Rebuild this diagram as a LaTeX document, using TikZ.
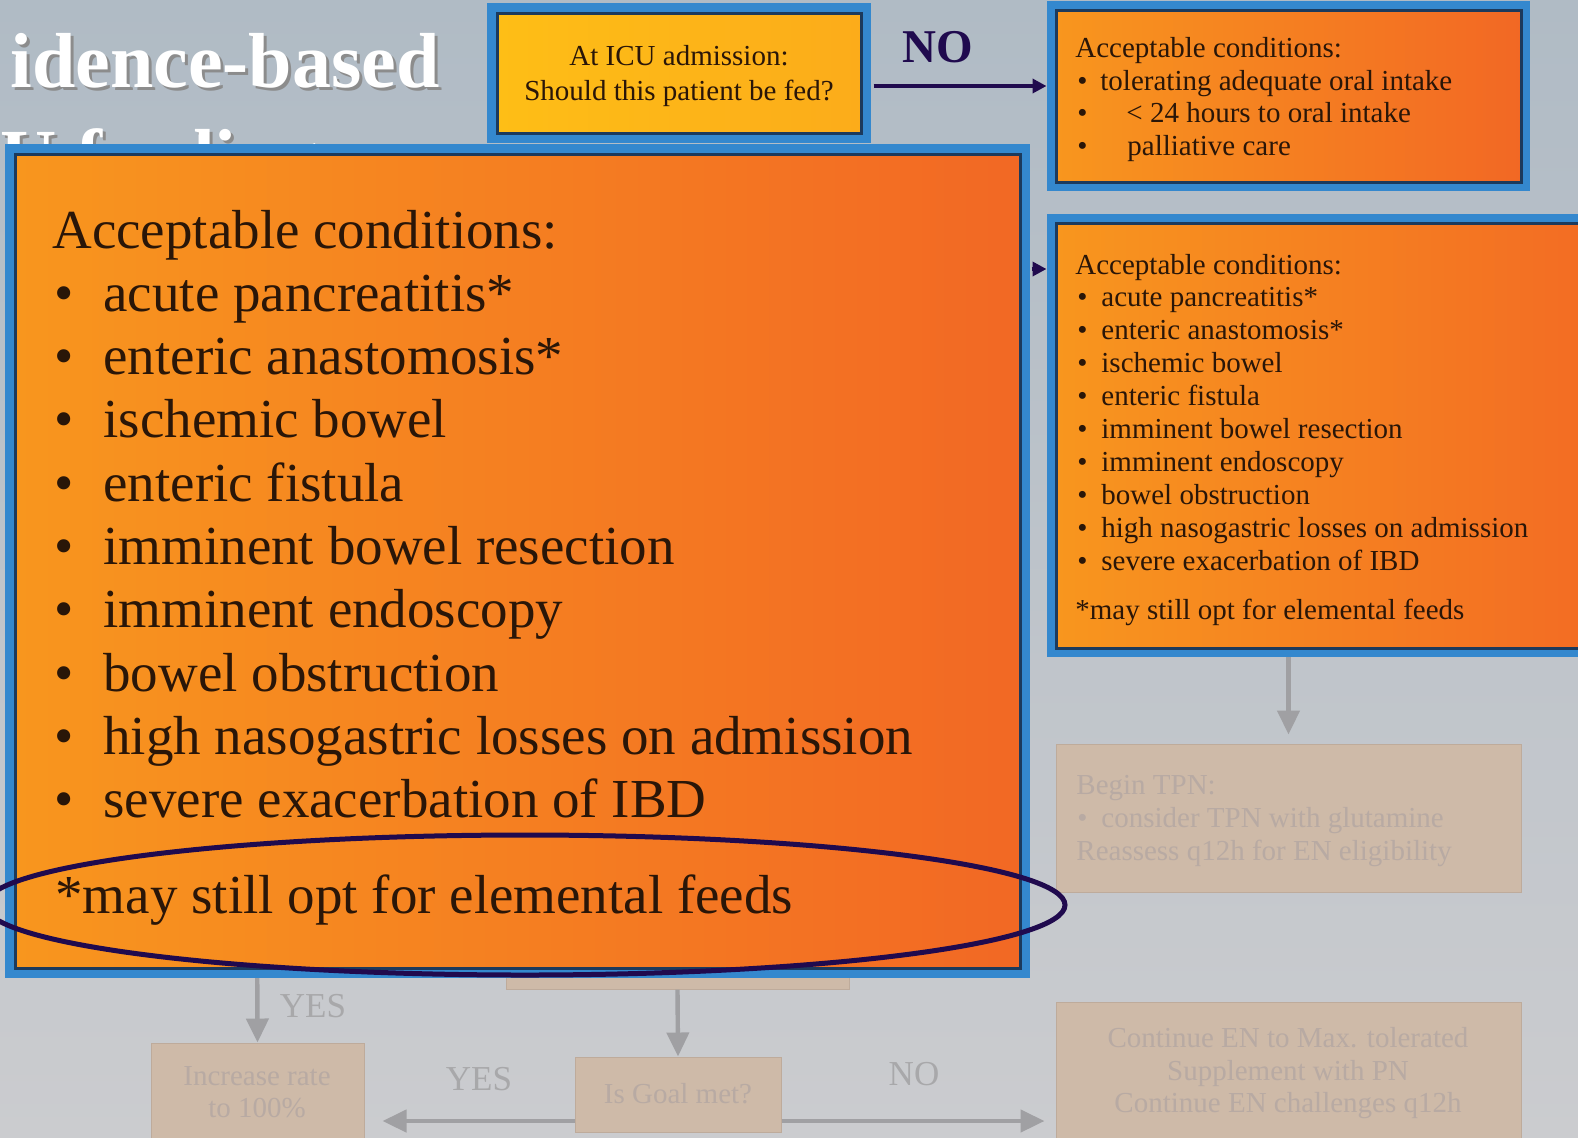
\documentclass[tikz,border=0pt]{standalone}
\usepackage{fontspec}
\setmainfont{Liberation Serif}
\usetikzlibrary{fit,arrows.meta,shapes.geometric}
\definecolor{slidetop}{RGB}{176,187,197}
\definecolor{slidebot}{RGB}{203,204,207}
\definecolor{frameblue}{RGB}{52,136,206}
\definecolor{framedark}{RGB}{28,58,92}
\definecolor{orangeL}{RGB}{248,150,30}
\definecolor{orangeR}{RGB}{242,104,36}
\definecolor{yellowL}{RGB}{254,190,22}
\definecolor{yellowR}{RGB}{252,172,26}
\definecolor{ink}{RGB}{42,22,8}
\definecolor{navy}{RGB}{32,10,78}
\definecolor{ghostbox}{RGB}{206,186,168}
\definecolor{ghostink}{RGB}{184,170,163}
\definecolor{ghostline}{RGB}{160,160,163}
\definecolor{ghostlabel}{RGB}{168,168,170}
\tikzstyle{panel} = [inner sep=0pt, draw=framedark, line width=1.5pt, left color=orangeL, right color=orangeR, preaction={draw=frameblue, line width=9pt}]
\tikzstyle{ghost} = [inner sep=0pt, fill=ghostbox, draw=ghostbox!92!black, line width=0.5pt]
\tikzstyle{ghostarrow} = [draw=ghostline, line width=2.2pt, -{Triangle[length=12pt,width=11pt]}]
\tikzstyle{navyarrow} = [draw=navy, line width=2pt, -{Triangle[length=7pt,width=7pt]}]
\tikzstyle{bigtxt} = [anchor=base west, inner sep=0pt, text=ink, font=\fontsize{27.5}{30}\selectfont]
\tikzstyle{smalltxt} = [anchor=base west, inner sep=0pt, text=ink, font=\fontsize{14.5}{16}\selectfont]
\tikzstyle{ghosttxt} = [smalltxt, text=ghostink]
\tikzstyle{ghostlabeltxt} = [anchor=base, inner sep=0pt, text=ghostlabel, font=\fontsize{17.5}{19}\selectfont]
\tikzstyle{titletxt} = [inner sep=0pt, font=\fontsize{39}{42}\bfseries\selectfont]

\begin{document}
\begin{tikzpicture}[x=0.5pt, y=-0.5pt]
        \useasboundingbox (0,0) rectangle (1578,1137);
        \clip (0,0) rectangle (1578,1137);
        \shade[top color=slidetop, bottom color=slidebot] (0,0) rectangle (1578,1137);
        % title, mostly hidden
        \node[titletxt, anchor=base east, text=black!45](titleshadow) at (443,90){idence-based};
        \node[titletxt, anchor=base east, text=white](title) at (440,87){idence-based};
        \node[titletxt, anchor=base west, text=black!45](title2shadow) at (3,186){U feeding};
        \node[titletxt, anchor=base west, text=white](title2) at (0,183){U feeding};
        % faded flowchart behind the zoom
        \node[ghost, fit={(506,900)(849,989)}](ghostmid){};
        \node[ghost, fit={(575,1057)(781,1132)}](goal){};
        \node[ghost, fit={(151,1043)(364,1170)}](increase){};
        \node[ghost, fit={(1056,744)(1521,892)}](tpn){};
        \node[ghost, fit={(1056,1002)(1521,1170)}](continue){};
        \node[ghosttxt, anchor=base](goaltxt) at (678,1103){Is Goal met?};
        \node[ghosttxt, anchor=base](increase1) at (257,1085){Increase rate};
        \node[ghosttxt, anchor=base](increase2) at (257,1117){to 100\%};
        \node[ghosttxt](tpn1) at (1076,794){Begin TPN:};
        \node[ghosttxt](tpnbullet) at (1077,827){\textbullet};
        \node[ghosttxt](tpn2) at (1101,827){consider TPN with glutamine};
        \node[ghosttxt](tpn3) at (1076,860){Reassess q12h for EN eligibility};
        \node[ghosttxt, anchor=base](cont1) at (1288,1047){Continue EN to Max. tolerated};
        \node[ghosttxt, anchor=base](cont2) at (1288,1080){Supplement with PN};
        \node[ghosttxt, anchor=base](cont3) at (1288,1112){Continue EN challenges q12h};
        \node[ghostlabeltxt](yes1) at (313,1017){YES};
        \node[ghostlabeltxt](yes2) at (479,1090){YES};
        \node[ghostlabeltxt](no2) at (914,1085){NO};
        \draw[ghostarrow](257,900)--(increase.north);
        \draw[ghostarrow](ghostmid.south)--(goal.north);
        \draw[ghostarrow, shorten >=9pt](goal.west |- 0,1121)--(increase.east |- 0,1121);
        \draw[ghostarrow, shorten >=5.5pt](goal.east |- 0,1121)--(continue.west |- 0,1121);
        \draw[ghostarrow, shorten >=4.5pt](1288.5,650)--(tpn.north);
        % first question
        \node[panel, left color=yellowL, right color=yellowR, preaction={draw=frameblue, line width=10pt}, fit={(497,13)(861,133)}](ask){};
        \node[smalltxt, anchor=base](ask1) at (679,65){At ICU admission:};
        \node[smalltxt, anchor=base](ask2) at (679,100){Should this patient be fed?};
        \node[anchor=base west, inner sep=0pt, text=navy, font=\fontsize{23.5}{25}\bfseries\selectfont](nolabel) at (902,62){NO};
        % no feeding
        \node[panel, fit={(1056,10)(1521,182)}](oral){};
        \node[smalltxt](oral0) at (1075,57){Acceptable conditions:};
        \node[smalltxt](oralb1) at (1077,90){\textbullet};
        \node[smalltxt](oralb2) at (1077,122){\textbullet};
        \node[smalltxt](oralb3) at (1077,155){\textbullet};
        \node[smalltxt](oral1) at (1100,90){tolerating adequate oral intake};
        \node[smalltxt](oral2) at (1126,122){< 24 hours to oral intake};
        \node[smalltxt](oral3) at (1127,155){palliative care};
        \draw[navyarrow, shorten <=5.5pt, shorten >=4pt](ask.east |- 0,86)--(oral.west |- 0,86);
        % conditions against enteral feeding
        \node[panel, fit={(1056,223)(1640,648)}](mid){};
        \node[smalltxt](mid0) at (1075,274){Acceptable conditions:};
        \foreach \t [count=\i] in {acute pancreatitis*, enteric anastomosis*, ischemic bowel, enteric fistula, imminent bowel resection, imminent endoscopy, bowel obstruction, high nasogastric losses on admission, severe exacerbation of IBD}{
          \node[smalltxt](midb\i) at (1077,274+32.9*\i){\textbullet};
          \node[smalltxt](mid\i) at (1101,274+32.9*\i){\t};
        }
        \node[smalltxt](midnote) at (1075,619){*may still opt for elemental feeds};
        % zoomed copy
        \node[panel, preaction={draw=frameblue, line width=10pt}, fit={(15,154)(1020,968)}](big){};
        \node[bigtxt](big0) at (52,248){Acceptable conditions:};
        \foreach \t [count=\i] in {acute pancreatitis*, enteric anastomosis*, ischemic bowel, enteric fistula, imminent bowel resection, imminent endoscopy, bowel obstruction, high nasogastric losses on admission, severe exacerbation of IBD}{
          \node[bigtxt](bigb\i) at (54,248+63.3*\i){\textbullet};
          \node[bigtxt](big\i) at (103,248+63.3*\i){\t};
        }
        \node[bigtxt](bignote) at (55,913){*may still opt for elemental feeds};
        \draw[navyarrow, shorten <=5pt, shorten >=4pt](big.east |- 0,269)--(mid.west |- 0,269);
        \node[draw=navy, line width=2.5pt, ellipse, inner sep=0pt, minimum width=540pt, minimum height=70pt](callout) at (525,905){};
      \end{tikzpicture}
\end{document}
